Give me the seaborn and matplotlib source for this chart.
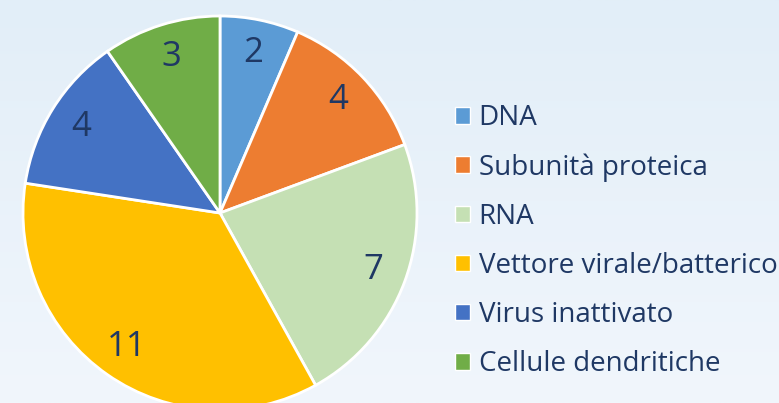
import numpy as np
import matplotlib
matplotlib.use("Agg")
import matplotlib.pyplot as plt
import seaborn as sns

categories = ["DNA", "Subunità proteica", "RNA", "Vettore virale/batterico",
              "Virus inattivato", "Cellule dendritiche"]
counts = [2, 4, 7, 11, 4, 3]
colors = ["#5b9bd5", "#ed7d31", "#c5e0b4", "#ffc000", "#4472c4", "#70ad47"]

sns.set_theme(style="white")
plt.rcParams["font.family"] = ["Open Sans", "DejaVu Sans"]
text_color = "#1f3864"

W, H = 779, 403
fig = plt.figure(figsize=(W / 100, H / 100), dpi=100)

# background gradient
bg = fig.add_axes([0, 0, 1, 1], zorder=0)
grad = np.linspace(0, 1, 256).reshape(-1, 1)
top = np.array([226, 238, 248]) / 255
bot = np.array([241, 246, 252]) / 255
img = top + (bot - top) * grad[:, :, None]
bg.imshow(img, aspect="auto", extent=[0, 1, 0, 1])
bg.axis("off")

cx, cy, r = 220, 213, 197
ax = fig.add_axes([(cx - r) / W, (H - cy - r) / H, 2 * r / W, 2 * r / H], zorder=1)
ax.patch.set_alpha(0)
pal = sns.color_palette(colors)
total = sum(counts)
wedges, texts, nums = ax.pie(counts, colors=pal, startangle=90, counterclock=False,
                             autopct=lambda p: f"{round(p * total / 100)}",
                             pctdistance=0.83,
                             wedgeprops=dict(edgecolor="white", linewidth=2),
                             textprops=dict(fontsize=25, color=text_color))
for w in wedges:
    w.set_clip_on(False)
ax.set_xlim(-1, 1)
ax.set_ylim(-1, 1)
ax.axis("off")

leg = fig.legend(wedges, categories, loc="upper left",
                 bbox_to_anchor=(430 / W, 1 - 79 / H), frameon=False,
                 fontsize=20, labelcolor=text_color, handlelength=0.55,
                 handleheight=0.55, handletextpad=0.3, labelspacing=0.76)
for h in leg.legend_handles:
    h.set_edgecolor("white")
    h.set_linewidth(1)

fig.savefig("out.png", dpi=100)
